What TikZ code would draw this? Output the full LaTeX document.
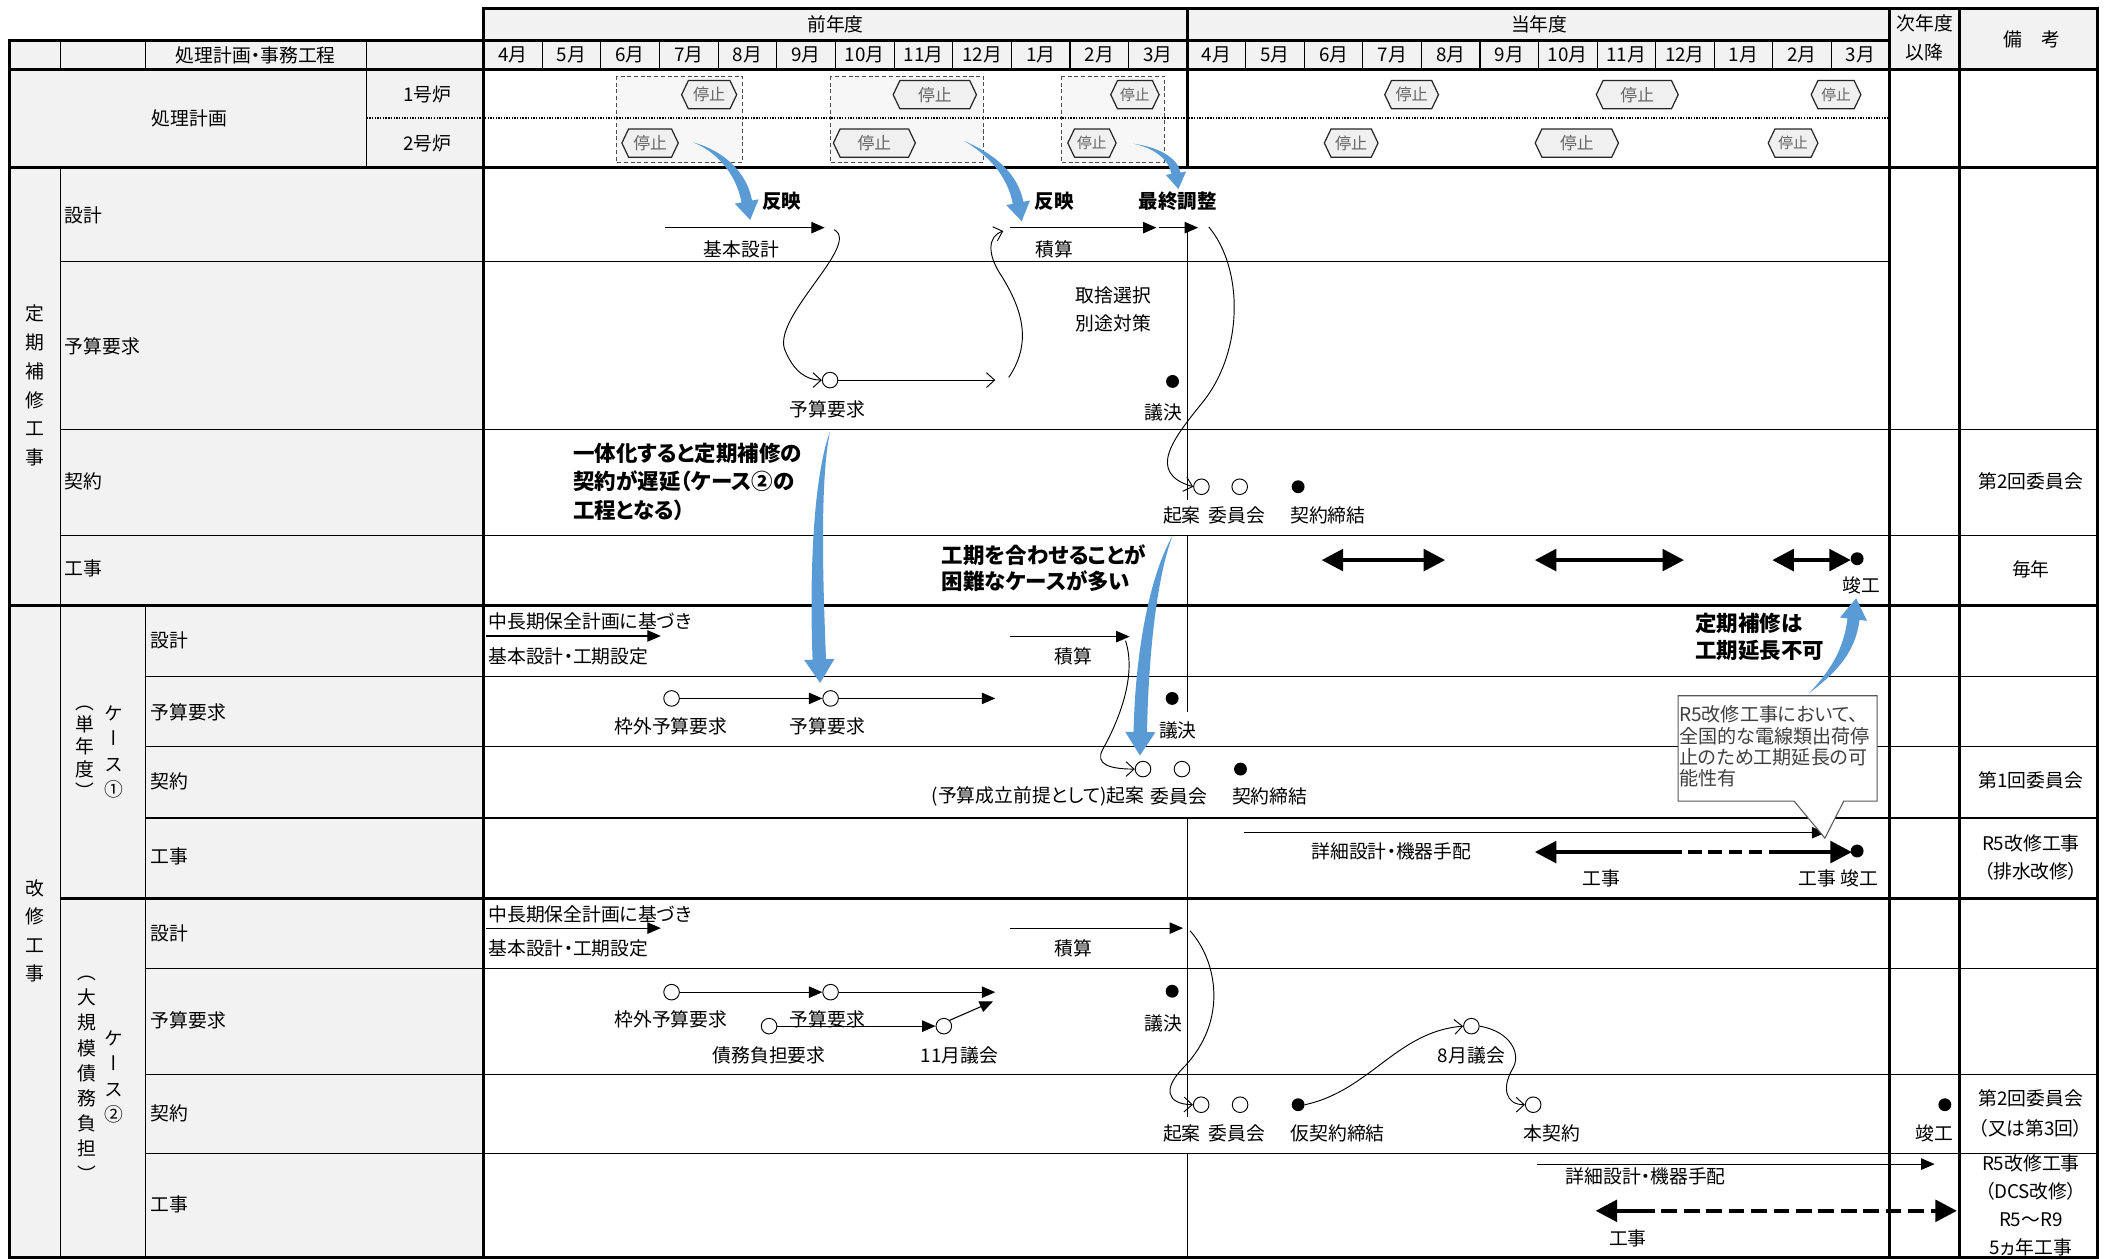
\documentclass[tikz,border=0pt]{standalone}
\usepackage{fontspec}
\setmainfont{Noto Sans CJK JP}[RawFeature=+palt]
\newfontfamily\vfont{Noto Sans CJK JP}[RawFeature=+vert]
\usetikzlibrary{arrows.meta,calc}
\definecolor{hdr}{HTML}{F2F2F2}
\definecolor{blu}{HTML}{5B9BD5}
\definecolor{stopfill}{HTML}{F0F0F0}
\definecolor{calltext}{HTML}{404040}

\newcommand\stopsign[5]{%
  \draw[line width=0.9pt, draw=black!85, fill=stopfill] (#2-#4,#3) -- (#2-#4+5,#3-10.5) -- (#2+#4-5,#3-10.5) -- (#2+#4,#3) -- (#2+#4-5,#3+10.5) -- (#2-#4+5,#3+10.5) -- cycle;
  \node[font=\fontsize{#5}{#5}\selectfont, text=black!60, inner sep=0pt] (#1) at (#2,#3) {停止};
}
\newcommand\barrow[6]{%
  \fill[blu] #1 .. controls ($#2+({#5-90}:{0.6*#6})$) and ($#3+({#5-90}:{#6})$) .. ($#4+({#5-90}:#6)$) -- ($#4+({#5-90}:{2.25*#6})$) -- ($#4+(#5:{3.5*#6})$) -- ($#4+({#5+90}:{2.25*#6})$) -- ($#4+({#5+90}:#6)$) .. controls ($#3+({#5+90}:{#6})$) and ($#2+({#5+90}:{0.6*#6})$) .. #1 -- cycle;
}

\begin{document}
\begin{tikzpicture}[x=1pt,y=-1pt,
  thinln/.style={line width=0.8pt},
  thk/.style={line width=2.2pt},
  lab/.style={font=\fontsize{14}{16}\selectfont, inner sep=0pt},
  blab/.style={font=\fontsize{16}{20}\selectfont\bfseries, inner sep=0pt, anchor=west},
  hlab/.style={font=\fontsize{14.5}{16}\selectfont\bfseries, inner sep=0pt},
  circo/.style={circle, draw, line width=0.7pt, minimum size=11.6pt, inner sep=0pt, fill=white},
  dotf/.style={circle, fill=black, minimum size=9.6pt, inner sep=0pt},
  tarr/.style={line width=0.8pt, -{Triangle[length=10pt,width=8.5pt]}},
  oarr/.style={line width=0.7pt, -{Straight Barb[length=6pt,width=11pt]}},
  bigarr/.style={line width=3pt},
  dashbox/.style={draw=black!70, dash pattern=on 3pt off 2pt, line width=0.7pt, fill=black!3},
  vtxt/.style={font=\vfont\fontsize{14}{#1}\selectfont, inner sep=0pt, align=center},
  ctxt/.style={font=\fontsize{14.2}{16}\selectfont, text=calltext, inner sep=0pt, anchor=west}
]
\useasboundingbox (0,0) rectangle (1568,937);
\fill[white] (0,0) rectangle (1568,937);
\fill[hdr] (7,30) rectangle (360,936);
\fill[hdr] (360,6) rectangle (1562,52);
\filldraw[dashbox] (459,56.6) rectangle (552.6,121);
\filldraw[dashbox] (618,56.6) rectangle (732,121);
\filldraw[dashbox] (790,56.6) rectangle (867,121);
\draw[line width=1.3pt, dash pattern=on 1pt off 1pt] (273,88) -- (1407,88);

% grid horizontal
\draw[thk] (360,6) -- (1562,6);
\draw[thk] (7,30) -- (1407,30);
\draw[thk] (7,52) -- (1562,52);
\draw[thk] (7,125) -- (1562,125);
\draw[thinln] (45,195) -- (1407,195);
\draw[thinln] (45,320) -- (1562,320);
\draw[thinln] (45,399) -- (1562,399);
\draw[thk] (7,451) -- (1562,451);
\foreach \y in {504,556,609} \draw[thinln] (108,\y) -- (1562,\y);
\draw[thk] (45,669) -- (1562,669);
\foreach \y in {721,800,858.5} \draw[thinln] (108,\y) -- (1562,\y);
\draw[thk] (7,936) -- (1562,936);
% grid vertical
\draw[thk] (7,29) -- (7,937);
\draw[thinln] (45,30) -- (45,52);
\draw[thinln] (45,125) -- (45,936);
\draw[thinln] (108,30) -- (108,52);
\draw[thinln] (108,451) -- (108,936);
\draw[thinln] (273,30) -- (273,125);
\draw[thk] (360,5) -- (360,936);
\draw[thk] (884,6) -- (884,125);
\draw[thk] (1407,6) -- (1407,936);
\draw[thk] (1459,6) -- (1459,936);
\draw[thk] (1562,5) -- (1562,937);
\foreach \a/\b in {172/372, 399/530, 609/832, 858.5/936} \draw[line width=1.2pt] (884,\a) -- (884,\b);
\foreach \i in {1,...,11} {
  \draw[thinln] ({360+43.667*\i},30) -- ({360+43.667*\i},52);
  \draw[thinln] ({884+43.583*\i},30) -- ({884+43.583*\i},52);
}

% header texts
\foreach \m [count=\i] in {4,5,6,7,8,9,10,11,12,1,2,3} {
  \node[lab] (pm\i) at ({360+43.667*(\i-0.5)},41) {\m 月};
  \node[lab] (cm\i) at ({884+43.583*(\i-0.5)},41) {\m 月};
}
\node[lab] (py) at (622,18) {前年度};
\node[lab] (cy) at (1146,18) {当年度};
\node[lab] (ny1) at (1433,17.5) {次年度};
\node[lab] (ny2) at (1433,39) {以降};
\node[lab] (bk) at (1513,29.5) {備　考};
\node[lab] (hd) at (190.5,41) {処理計画・事務工程};
\node[lab] (sk) at (141,88) {処理計画};
\node[lab] (f1) at (318,70.5) {1号炉};
\node[lab] (f2) at (318,106.5) {2号炉};

% left labels
\node[vtxt=21.5] (vt1) at (26,287) {定\\期\\補\\修\\工\\事};
\node[vtxt=21.2] (vt2) at (26,693) {改\\修\\工\\事};
\node[vtxt=19] (vc1) at (85,560) {ケ\\ー\\ス\\①};
\node[vtxt=16.6] (vc1b) at (63.5,560) {（\\単\\年\\度\\）};
\node[vtxt=19] (vc2) at (85,802) {ケ\\ー\\ス\\②};
\node[vtxt=18.75] (vc2b) at (65,803) {（\\大\\規\\模\\債\\務\\負\\担\\）};
\node[lab, anchor=west] (lt1) at (48,160.5) {設計};
\node[lab, anchor=west] (lt2) at (48,258) {予算要求};
\node[lab, anchor=west] (lt3) at (48,358.6) {契約};
\node[lab, anchor=west] (lt4) at (48,423.5) {工事};
\node[lab, anchor=west] (la1) at (112,477) {設計};
\node[lab, anchor=west] (la2) at (112,530) {予算要求};
\node[lab, anchor=west] (la3) at (112,582) {契約};
\node[lab, anchor=west] (la4) at (112,637.6) {工事};
\node[lab, anchor=west] (lb1) at (112,694.7) {設計};
\node[lab, anchor=west] (lb2) at (112,760) {予算要求};
\node[lab, anchor=west] (lb3) at (112,828.7) {契約};
\node[lab, anchor=west] (lb4) at (112,897) {工事};

% stop signs
\stopsign{s11}{528}{70.5}{20.5}{12}
\stopsign{s12}{696}{70.5}{31}{12.5}
\stopsign{s13}{845}{70.5}{18}{11}
\stopsign{s14}{1051}{70.5}{20}{12}
\stopsign{s15}{1219}{70.5}{30.5}{12.5}
\stopsign{s16}{1367}{70.5}{18.5}{11}
\stopsign{s21}{484}{106.5}{21}{12.5}
\stopsign{s22}{651}{106.5}{30.5}{12.5}
\stopsign{s23}{813}{106.5}{18}{11}
\stopsign{s24}{1006}{106.5}{20}{12}
\stopsign{s25}{1174}{106.5}{31}{12.5}
\stopsign{s26}{1335}{106.5}{18.5}{11}

% ===== 定期補修 =====
\coordinate (tk0) at (495,169.5);
\coordinate (tk1) at (614,169.5);
\draw[tarr] (tk0) -- (tk1);
\node[lab] (tkl) at (552,186) {基本設計};
\node[circo] (tyo) at (618,283) {};
\node[lab] (tyol) at (616,305) {予算要求};
\coordinate (tkc) at (621,171);
\draw[oarr] (tkc) .. controls (642,182) and (572,238) .. (585,262) .. controls (591,276) and (600,283) .. (tyo.west);
\coordinate (tyoE) at (741,283);
\draw[oarr] (tyo.east) -- (tyoE);
\coordinate (tyoR) at (751,281);
\coordinate (tskC) at (747,172);
\draw[oarr] (tyoR) .. controls (768,256) and (762,232) .. (746,206) .. controls (735,190) and (735,176) .. (tskC);
\coordinate (tsk0) at (752,169.5);
\coordinate (tsk1) at (861,169.5);
\draw[tarr] (tsk0) -- (tsk1);
\node[lab] (tskl) at (785,186) {積算};
\coordinate (tf0) at (863,169.5);
\coordinate (tf1) at (892,169.5);
\draw[tarr] (tf0) -- (tf1);
\node[lab] (tsh1) at (829,220) {取捨選択};
\node[lab] (tsh2) at (829,241) {別途対策};
\node[dotf] (tgi) at (873,284) {};
\node[lab] (tgil) at (866,307) {議決};
\node[circo] (tki) at (894.5,362.4) {};
\node[circo] (tii) at (923,362.4) {};
\node[dotf] (tke) at (966.5,362.4) {};
\node[lab] (tkil) at (880,383.5) {起案};
\node[lab] (tiil) at (921,383.5) {委員会};
\node[lab] (tkel) at (988.7,383.5) {契約締結};
\coordinate (tfc) at (900,169);
\draw[oarr] (tfc) .. controls (926,200) and (926,262) .. (895,300) .. controls (874,326) and (853,352) .. (tki.west);
\node[hlab] (hr1) at (582,150) {反映};
\node[hlab] (hr2) at (785,150) {反映};
\node[hlab] (hr3) at (877,150) {最終調整};
% construction arrows
\coordinate (tw1a) at (984,417); \coordinate (tw1b) at (1076,417);
\coordinate (tw2a) at (1142.7,417); \coordinate (tw2b) at (1253.8,417);
\coordinate (tw3a) at (1319.5,417); \coordinate (tw3b) at (1378,417);
\foreach \p in {1,2,3}
  \draw[bigarr, {Triangle[length=16pt,width=16pt]}-{Triangle[length=16pt,width=16pt]}] (tw\p a) -- (tw\p b);
\node[dotf] (tshun) at (1382.7,416) {};
\node[lab] (tshunl) at (1386,436) {竣工};

% remarks
\node[lab] (r1) at (1512,358.6) {第2回委員会};
\node[lab] (r2) at (1512,423.8) {毎年};
\node[lab] (r3) at (1512,580.8) {第1回委員会};
\node[lab] (r4a) at (1512,627.7) {R5改修工事};
\node[lab] (r4b) at (1512,648.8) {（排水改修）};
\node[lab] (r5a) at (1512,817.6) {第2回委員会};
\node[lab] (r5b) at (1512,840) {（又は第3回）};
\node[lab] (r6a) at (1512,866) {R5改修工事};
\node[lab] (r6b) at (1512,887) {（DCS改修）};
\node[lab] (r6c) at (1512,908) {R5～R9};
\node[lab] (r6d) at (1512,928.5) {5ヵ年工事};

% ===== ケース① =====
\coordinate (as0) at (362,473.5); \coordinate (as1) at (492,473.5);
\draw[tarr] (as0) -- (as1);
\node[lab, anchor=west] (at1) at (363.5,463) {中長期保全計画に基づき};
\node[lab, anchor=west] (at2) at (363.5,489) {基本設計・工期設定};
\coordinate (ask0) at (752,474); \coordinate (ask1) at (841,474);
\draw[tarr] (ask0) -- (ask1);
\node[lab] (askl) at (799,488.5) {積算};
\node[circo] (awk) at (500,520) {};
\node[circo] (ayo) at (618.4,520) {};
\draw[tarr] (awk.east) -- (ayo.west);
\coordinate (ayoE) at (741,520);
\draw[tarr] (ayo.east) -- (ayoE);
\node[lab] (awkl) at (499.5,541) {枠外予算要求};
\node[lab] (ayol) at (616,541) {予算要求};
\node[dotf] (agi) at (872.7,520) {};
\node[lab] (agil) at (877,543.6) {議決};
\node[circo] (aki) at (851,572.6) {};
\node[circo] (aii) at (880,572.6) {};
\node[dotf] (ake) at (923.6,572.6) {};
\coordinate (askc) at (838,477);
\draw[oarr] (askc) .. controls (847,505) and (831,540) .. (821,558) .. controls (815,569) and (826,572.6) .. (aki.west);
\node[lab, anchor=east] (akil) at (852,593) {(予算成立前提として)起案};
\node[lab] (aiil) at (877.7,593) {委員会};
\node[lab] (akel) at (945.3,593) {契約締結};
\coordinate (ad0) at (926,620); \coordinate (ad1) at (1359,620);
\draw[tarr] (ad0) -- (ad1);
\node[lab] (adl) at (1036,633.8) {詳細設計・機器手配};
\coordinate (ak1) at (1142.7,634.4); \coordinate (ak2) at (1252,634.4);
\coordinate (ak3) at (1322,634.4); \coordinate (ak4) at (1378.8,634.4);
\draw[bigarr, {Triangle[length=16pt,width=16pt]}-] (ak1) -- (ak2);
\draw[bigarr, dash pattern=on 10pt off 5pt, dash phase=10pt] (ak2) -- (ak3);
\draw[bigarr, -{Triangle[length=16pt,width=16pt]}] (ak3) -- (ak4);
\node[dotf] (ashun) at (1382.7,633.6) {};
\node[lab] (akl1) at (1192,653.8) {工事};
\node[lab] (akl2) at (1368.6,653.8) {工事 竣工};

% callout
\draw[draw=black!65, line width=0.8pt, fill=white] (1249.4,518) -- (1397.6,518) -- (1397.6,596.5) -- (1372.7,596.5) -- (1358.7,624) -- (1335.8,596.5) -- (1249.4,596.5) -- cycle;
\node[ctxt] (co1) at (1250,532) {R5改修工事において、};
\node[ctxt] (co2) at (1250,547.8) {全国的な電線類出荷停};
\node[ctxt] (co3) at (1250,563.6) {止のため工期延長の可};
\node[ctxt] (co4) at (1250,579.4) {能性有};

% ===== ケース② =====
\coordinate (bs0) at (362,691); \coordinate (bs1) at (492,691);
\draw[tarr] (bs0) -- (bs1);
\node[lab, anchor=west] (bt1) at (363.5,680.5) {中長期保全計画に基づき};
\node[lab, anchor=west] (bt2) at (363.5,706) {基本設計・工期設定};
\coordinate (bsk0) at (752,691); \coordinate (bsk1) at (880.8,691);
\draw[tarr] (bsk0) -- (bsk1);
\node[lab] (bskl) at (799.4,706) {積算};
\node[lab] (bwkl) at (499.5,759) {枠外予算要求};
\node[lab] (byol) at (616,759) {予算要求};
\node[circo] (bwk) at (500,738.7) {};
\node[circo] (byo) at (618.4,738.7) {};
\draw[tarr] (bwk.east) -- (byo.west);
\coordinate (byoE) at (741,738.7);
\draw[tarr] (byo.east) -- (byoE);
\node[circo] (bsai) at (572.6,764) {};
\node[circo] (bnov) at (702.7,764) {};
\draw[tarr] (bsai.east) -- (bnov.west);
\coordinate (bnovE) at (739.4,745.5);
\draw[tarr] (bnov.north east) -- (bnovE);
\node[lab] (bsail) at (572.6,785.5) {債務負担要求};
\node[lab] (bnovl) at (714.4,785.5) {11月議会};
\node[dotf] (bgi) at (872.7,738) {};
\node[lab] (bgil) at (866,761.7) {議決};
\node[circo] (bki) at (894.3,822.5) {};
\node[circo] (bii) at (923.3,822.5) {};
\node[dotf] (bkari) at (966.5,822.5) {};
\coordinate (bskc) at (886,693);
\draw[oarr] (bskc) .. controls (906,715) and (915,760) .. (881,795) .. controls (866,810) and (868,822) .. (bki.west);
\node[lab] (bkil) at (880,843.7) {起案};
\node[lab] (biil) at (921,843.7) {委員会};
\node[lab] (bkaril) at (996,843.7) {仮契約締結};
\node[circo] (baug) at (1095.5,764) {};
\node[lab] (baugl) at (1095.5,785.5) {8月議会};
\draw[oarr] (bkari.east) .. controls (1020,812) and (1040,768) .. (baug.west);
\node[circo] (bhon) at (1141.5,822.5) {};
\node[lab] (bhonl) at (1155.4,843.7) {本契約};
\draw[oarr] (baug.east) .. controls (1125,768) and (1133,785) .. (1126,796) .. controls (1118,810) and (1121,822.5) .. (bhon.west);
\node[dotf] (bshun) at (1448,822.5) {};
\node[lab] (bshunl) at (1440.4,843.7) {竣工};
\coordinate (bd0) at (1144.7,866.7); \coordinate (bd1) at (1440.4,866.7);
\draw[tarr] (bd0) -- (bd1);
\node[lab] (bdl) at (1225.4,875.7) {詳細設計・機器手配};
\coordinate (bk1) at (1188,901.5); \coordinate (bk2) at (1232,901.5); \coordinate (bk3) at (1457,901.5);
\draw[bigarr, {Triangle[length=16pt,width=16pt]}-] (bk1) -- (bk2);
\draw[bigarr, dash pattern=on 11.7pt off 5pt, dash phase=11.7pt, -{Triangle[length=16pt,width=16pt]}] (bk2) -- (bk3);
\node[lab] (bkl) at (1212,921.8) {工事};

% ===== blue arrows =====
\barrow{(516,106)}{(535,112)}{(552,128)}{(556,150)}{79.7}{4}
\barrow{(718,105)}{(738,115)}{(754,130)}{(758,151)}{79}{4}
\barrow{(844,107)}{(862,110)}{(874,119)}{(875.5,129)}{81}{3.4}
\barrow{(618,321)}{(607,360)}{(608,440)}{(610,491)}{88}{5}
\barrow{(873,399)}{(858,430)}{(850,490)}{(849,545)}{91}{5}
\barrow{(1347,516)}{(1365,500)}{(1377,485)}{(1380,461)}{-82.9}{4.5}

% bold comments
\node[blab] (c11) at (426.5,337.5) {一体化すると定期補修の};
\node[blab] (c12) at (426.5,358.6) {契約が遅延（ケース②の};
\node[blab] (c13) at (426.5,379.7) {工程となる）};
\node[blab] (c21) at (701,413.3) {工期を合わせることが};
\node[blab] (c22) at (701,433) {困難なケースが多い};
\node[blab] (c31) at (1262,464) {定期補修は};
\node[blab] (c32) at (1262,484) {工期延長不可};
\end{tikzpicture}
\end{document}
